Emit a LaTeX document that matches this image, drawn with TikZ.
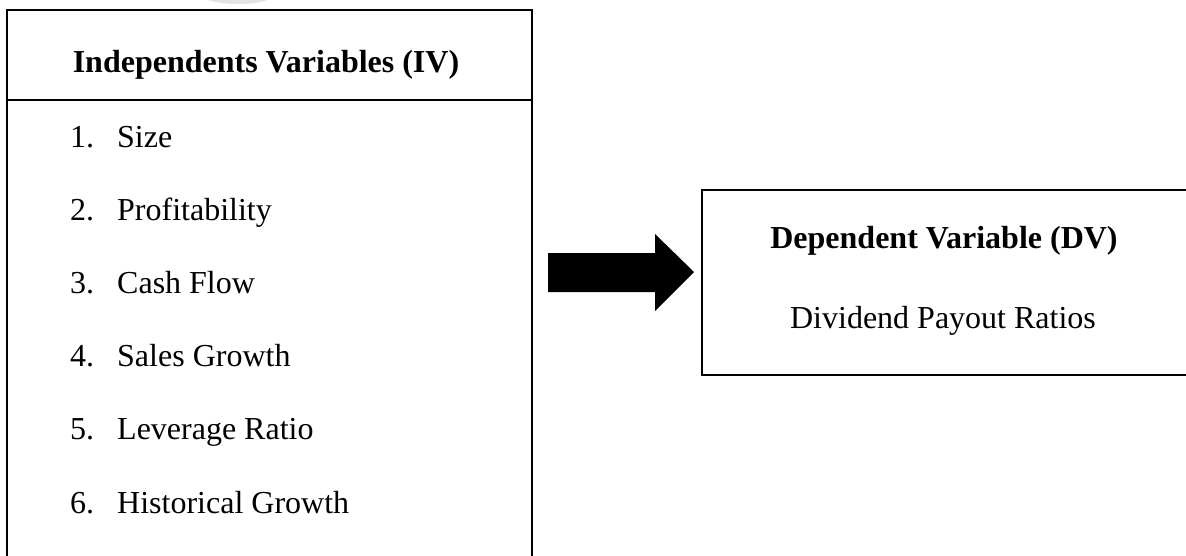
\documentclass[tikz,border=0pt]{standalone}
\usepackage{fontspec}
\setmainfont{Liberation Serif}
\begin{document}
\begin{tikzpicture}[x=1pt,y=-1pt,
  boxline/.style={draw=black,line width=2.8pt,inner sep=0pt,outer sep=0pt},
  txt/.style={inner sep=0pt,anchor=base,font=\fontsize{32}{38}\selectfont},
  bold/.style={txt,font=\fontsize{32}{38}\selectfont\bfseries},
  item/.style={txt,anchor=base west}]
\useasboundingbox (0,0) rectangle (1186,555);
\clip (0,0) rectangle (1186,555);
% faint watermark arc
\fill[gray!22] (238,-4) ellipse [x radius=34, y radius=8];
% left box
\node[boxline,minimum width=525pt,minimum height=600pt,anchor=north west] (ivbox) at (7,10) {};
\coordinate (divL) at (7,100);
\coordinate (divR) at (532,100);
\draw[line width=2.8pt] (divL) -- (divR);
\node[bold] (ivtitle) at (266,72) {Independents Variables (IV)};
\foreach \i/\t [count=\k from 0] in {1/Size,2/Profitability,3/Cash Flow,4/Sales Growth,5/Leverage Ratio,6/Historical Growth}{
  \node[item] (num\i) at (70,147+73.2*\k) {\i.};
  \node[item] (lab\i) at (117,147+73.2*\k) {\t};
}
% right box
\node[boxline,minimum width=520pt,minimum height=185pt,anchor=north west] (dvbox) at (702,190) {};
\node[bold] (dvtitle) at (944,248) {Dependent Variable (DV)};
\node[txt] (dvtext) at (943,328) {Dividend Payout Ratios};
% block arrow
\coordinate (aL) at (548,272);
\coordinate (aT) at (694,272);
\fill[black] (548,253) -- (655,253) -- (655,234) -- (aT) -- (655,311) -- (655,292) -- (548,292) -- cycle;
\end{tikzpicture}
\end{document}
